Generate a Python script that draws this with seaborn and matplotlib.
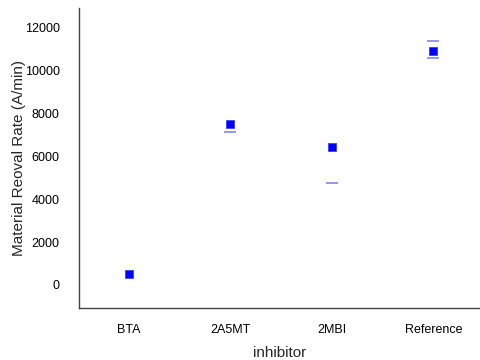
import matplotlib
matplotlib.use('Agg')
import matplotlib.pyplot as plt
import numpy as np
import pandas as pd
import seaborn as sns

inhibitor = ['BTA', '2A5MT', '2MBI', 'Reference']
rate = [520, 7500, 6430, 10920]
err_low = [np.nan, 7150, 4750, 10600]
err_high = [np.nan, np.nan, np.nan, 11380]

df = pd.DataFrame({'inhibitor': inhibitor, 'rate': rate,
                   'low': err_low, 'high': err_high})

sns.set_style('white')
plt.rcParams['font.family'] = ['Liberation Sans', 'DejaVu Sans']

fig, ax = plt.subplots(figsize=(4.8, 3.6), dpi=100)
fig.subplots_adjust(left=0.165, right=1.0, bottom=0.145, top=0.978)

# error marks (drawn as short caps only)
for col in ['low', 'high']:
    sns.scatterplot(data=df, x='inhibitor', y=col, marker='_', s=80,
                    color='#9090e8', linewidth=1.3, ax=ax, legend=False)
sns.scatterplot(data=df, x='inhibitor', y='rate', marker='s', s=36,
                color='#0000ff', edgecolor='#3030ff', linewidth=0.5,
                ax=ax, legend=False, zorder=3)

ax.set_xlim(-0.49, 3.46)
ax.set_ylim(-1070, 12930)
ax.set_yticks([0, 2000, 4000, 6000, 8000, 10000, 12000])
ax.tick_params(axis='both', length=0, labelsize=9, colors='black')
ax.tick_params(axis='y', pad=14)
ax.tick_params(axis='x', pad=12)
ax.set_xlabel('inhibitor', fontsize=11, labelpad=7)
ax.set_ylabel('Material Reoval Rate (A/min)', fontsize=11, labelpad=-1)
for side in ['top', 'right']:
    ax.spines[side].set_visible(False)
for side in ['left', 'bottom']:
    ax.spines[side].set_color('#444444')
    ax.spines[side].set_linewidth(1.0)

fig.savefig('out.png', dpi=100)
